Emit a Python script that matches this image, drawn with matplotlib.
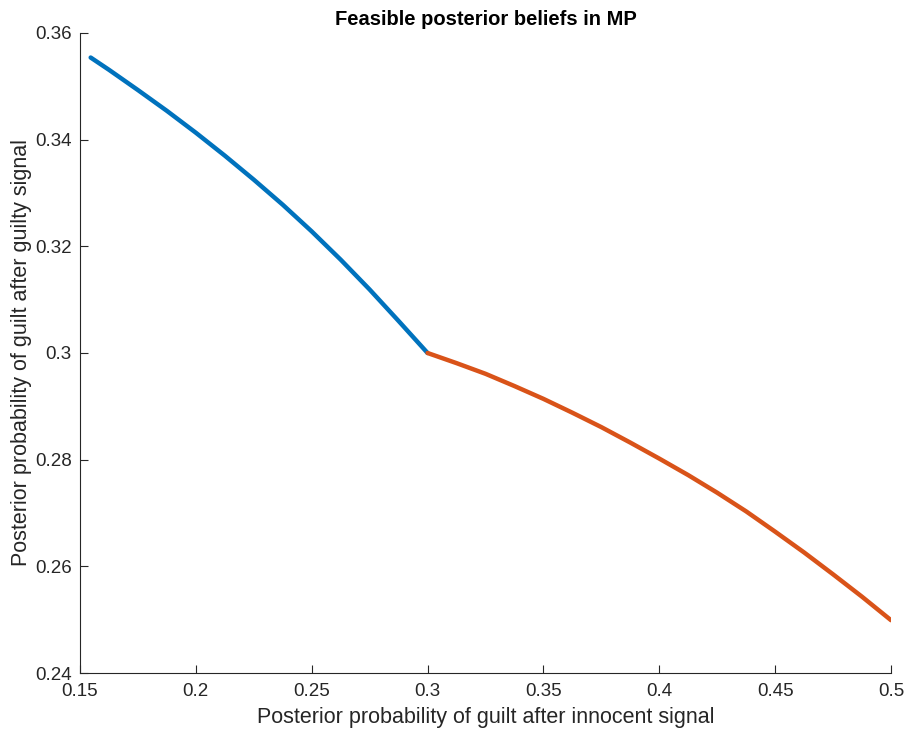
import matplotlib
matplotlib.use("Agg")
import matplotlib.pyplot as plt
from matplotlib.ticker import FuncFormatter

# Data
blue_x = [0.1546, 0.1625, 0.175, 0.1875, 0.2, 0.2125, 0.225, 0.2375, 0.25,
          0.2625, 0.275, 0.2875, 0.3]
blue_y = [0.3554, 0.3531, 0.3493, 0.3454, 0.3413, 0.3370, 0.3325, 0.3278,
          0.3228, 0.3175, 0.3119, 0.3060, 0.3000]
orange_x = [0.3, 0.3125, 0.325, 0.3375, 0.35, 0.3625, 0.375, 0.3875, 0.4,
            0.4125, 0.425, 0.4375, 0.45, 0.4625, 0.475, 0.4875, 0.5]
orange_y = [0.3000, 0.2981, 0.2961, 0.2938, 0.2914, 0.2888, 0.2861, 0.2832,
            0.2802, 0.2771, 0.2738, 0.2703, 0.2665, 0.2626, 0.2585, 0.2543, 0.2499]

x_ticks = [0.15, 0.2, 0.25, 0.3, 0.35, 0.4, 0.45, 0.5]
y_ticks = [0.24, 0.26, 0.28, 0.3, 0.32, 0.34, 0.36]

title = "Feasible posterior beliefs in MP"
xlabel = "Posterior probability of guilt after innocent signal"
ylabel = "Posterior probability of guilt after guilty signal"

plt.rcParams['font.family'] = ['Liberation Sans', 'DejaVu Sans']

fig = plt.figure(figsize=(9.08, 7.34), dpi=100)
ax = fig.add_axes([80/908, 1 - 673/734, (891 - 80)/908, (673 - 33)/734])

ax.plot(blue_x, blue_y, color='#0072BD', lw=3.2, solid_capstyle='round',
        solid_joinstyle='round')
ax.plot(orange_x, orange_y, color='#D95319', lw=3.2, solid_capstyle='round',
        solid_joinstyle='round')

ax.set_xlim(0.15, 0.5)
ax.set_ylim(0.24, 0.36)
ax.set_xticks(x_ticks)
ax.set_yticks(y_ticks)
fmt = FuncFormatter(lambda v, p: ('%g' % round(v, 4)))
ax.xaxis.set_major_formatter(fmt)
ax.yaxis.set_major_formatter(fmt)

for s in ['top', 'right']:
    ax.spines[s].set_visible(False)
for s in ['left', 'bottom']:
    ax.spines[s].set_color('#262626')
    ax.spines[s].set_linewidth(0.8)

ax.tick_params(direction='in', length=6, width=0.8, color='#262626',
               labelcolor='#262626', labelsize=13.5)
ax.tick_params(axis='y', pad=6)
ax.tick_params(axis='x', pad=7)

ax.set_title(title, fontsize=14.5, fontweight='bold', pad=6, color='black')
ax.set_xlabel(xlabel, fontsize=15.5, color='#262626', labelpad=5)
ax.set_ylabel(ylabel, fontsize=15.5, color='#262626', labelpad=2)

fig.savefig("out.png", dpi=100)
